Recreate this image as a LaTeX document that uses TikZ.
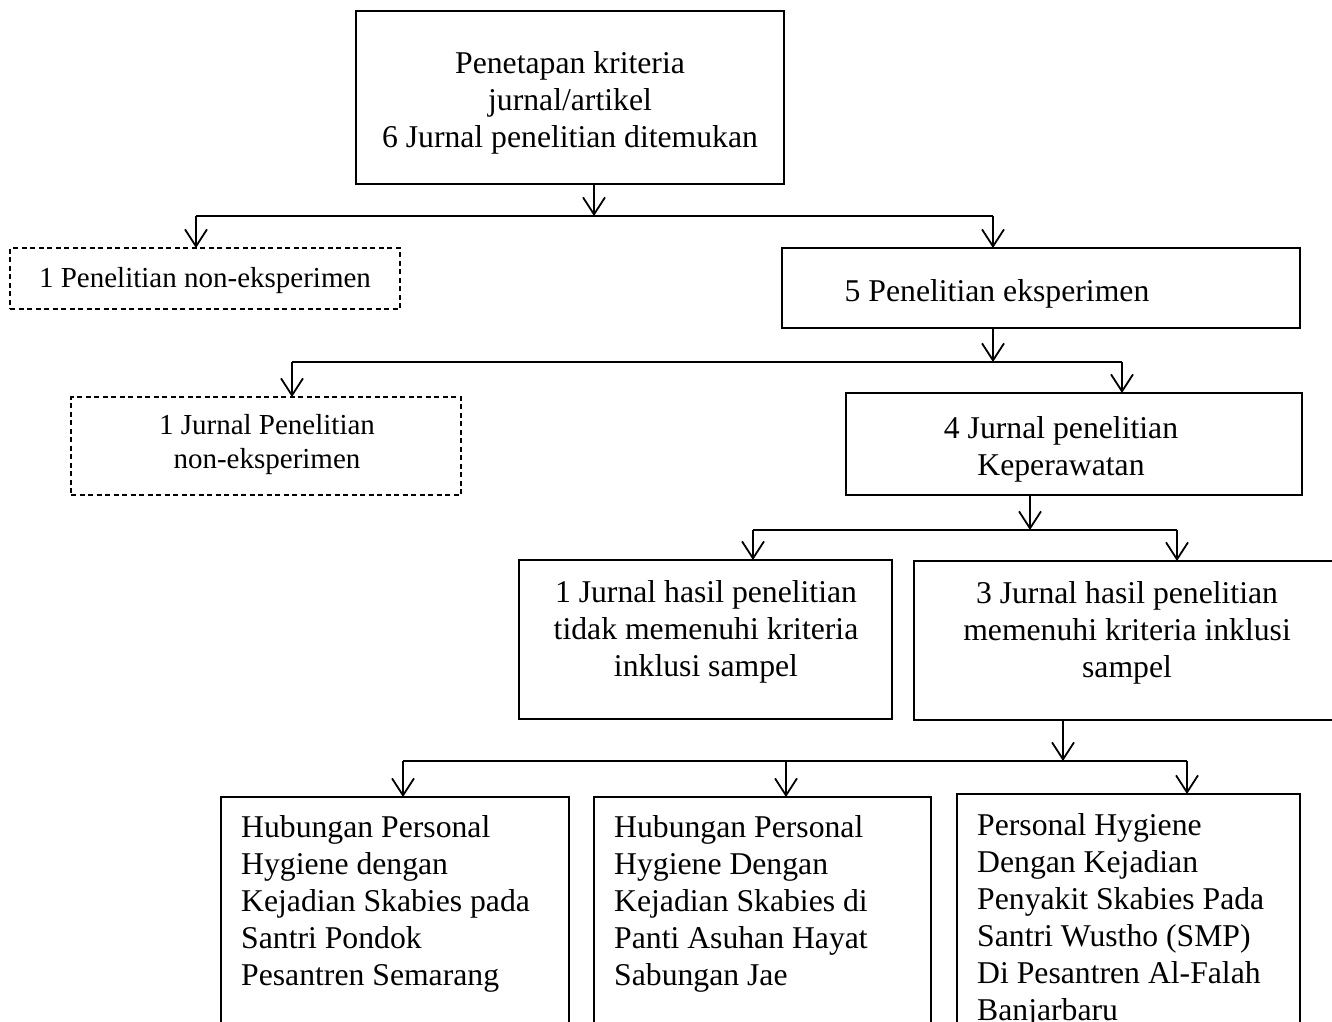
\documentclass[tikz,border=0pt]{standalone}
\usepackage{fontspec}
\setmainfont{Liberation Serif}
\usetikzlibrary{arrows.meta}
\begin{document}
\begin{tikzpicture}[x=1pt,y=-1pt,
  box/.style={draw, line width=2.4pt, anchor=north west, inner sep=0pt, outer sep=0pt},
  dbox/.style={draw, line width=1.3pt, dash pattern=on 5pt off 3.5pt, anchor=north west, inner sep=0pt, outer sep=0pt},
  big/.style={font=\fontsize{31.7}{37}\selectfont, inner sep=0pt, align=center, anchor=north},
  bigl/.style={font=\fontsize{31.7}{37}\selectfont, inner sep=0pt, align=left, anchor=north west},
  small/.style={font=\fontsize{29}{34}\selectfont, inner sep=0pt, align=center, anchor=north},
  conn/.style={line width=1.6pt},
  arr/.style={conn, -{Straight Barb[length=17pt,width=22pt,line width=1.8pt]}}
]
\useasboundingbox (0,0) rectangle (1332,1021);
\clip (0,0) rectangle (1332,1021);

% boxes
\node[box, minimum width=428pt, minimum height=173pt] (top) at (356,11) {};
\node[dbox, minimum width=390pt, minimum height=61pt] (nonexp1) at (10,248) {};
\node[box, minimum width=518pt, minimum height=80pt] (exp5) at (782,248) {};
\node[dbox, minimum width=390pt, minimum height=98pt] (nonexp2) at (71,397) {};
\node[box, minimum width=456pt, minimum height=102pt] (kep4) at (846,393) {};
\node[box, minimum width=373pt, minimum height=159pt] (tidak) at (519,560) {};
\node[box, minimum width=440pt, minimum height=159pt] (memenuhi) at (914,561) {};
\node[box, minimum width=348pt, minimum height=260pt] (bA) at (221,797) {};
\node[box, minimum width=337pt, minimum height=260pt] (bB) at (594,797) {};
\node[box, minimum width=343pt, minimum height=260pt] (bC) at (957,794) {};

% texts
\node[big] (t0) at (570,51.4) {Penetapan kriteria\\jurnal/artikel\\6 Jurnal penelitian ditemukan};
\node[small] (t1) at (205,267) {1 Penelitian non-eksperimen};
\node[big] (t2) at (997,279) {5 Penelitian eksperimen};
\node[small] (t3) at (267,414) {1 Jurnal Penelitian\\non-eksperimen};
\node[big] (t4) at (1061,416) {4 Jurnal penelitian\\Keperawatan};
\node[big] (t5) at (706,580) {1 Jurnal hasil penelitian\\tidak memenuhi kriteria\\inklusi sampel};
\node[big] (t6) at (1127,581) {3 Jurnal hasil penelitian\\memenuhi kriteria inklusi\\sampel};
\node[bigl] (t7) at (241,815) {Hubungan Personal\\Hygiene dengan\\Kejadian Skabies pada\\Santri Pondok\\Pesantren Semarang};
\node[bigl] (t8) at (614,815) {Hubungan Personal\\Hygiene Dengan\\Kejadian Skabies di\\Panti Asuhan Hayat\\Sabungan Jae};
\node[bigl] (t9) at (977,813) {Personal Hygiene\\Dengan Kejadian\\Penyakit Skabies Pada\\Santri Wustho (SMP)\\Di Pesantren Al-Falah\\Banjarbaru};

% level 1
\coordinate (j1) at (594,216);
\coordinate (l1) at (196,216);
\coordinate (r1) at (993,216);
\draw[arr] (top.south -| j1) -- (j1);
\draw[conn] (l1) -- (r1);
\draw[arr] (l1) -- (nonexp1.north -| l1);
\draw[arr] (r1) -- (exp5.north -| r1);

% level 2
\coordinate (j2) at (993,362);
\coordinate (l2) at (292,362);
\coordinate (r2) at (1122,362);
\draw[arr] (exp5.south -| j2) -- (j2);
\draw[conn] (l2) -- (r2);
\draw[arr] (l2) -- (nonexp2.north -| l2);
\draw[arr] (r2) -- (kep4.north -| r2);

% level 3
\coordinate (j3) at (1030,530);
\coordinate (l3) at (753,530);
\coordinate (r3) at (1177,530);
\draw[arr] (kep4.south -| j3) -- (j3);
\draw[conn] (l3) -- (r3);
\draw[arr] (l3) -- (tidak.north -| l3);
\draw[arr] (r3) -- (memenuhi.north -| r3);

% level 4
\coordinate (j4) at (1063,761);
\coordinate (l4) at (403,761);
\coordinate (m4) at (786,761);
\coordinate (r4) at (1187,761);
\draw[arr] (memenuhi.south -| j4) -- (j4);
\draw[conn] (l4) -- (r4);
\draw[arr] (l4) -- (bA.north -| l4);
\draw[arr] (m4) -- (bB.north -| m4);
\draw[arr] (r4) -- (bC.north -| r4);
\end{tikzpicture}
\end{document}
